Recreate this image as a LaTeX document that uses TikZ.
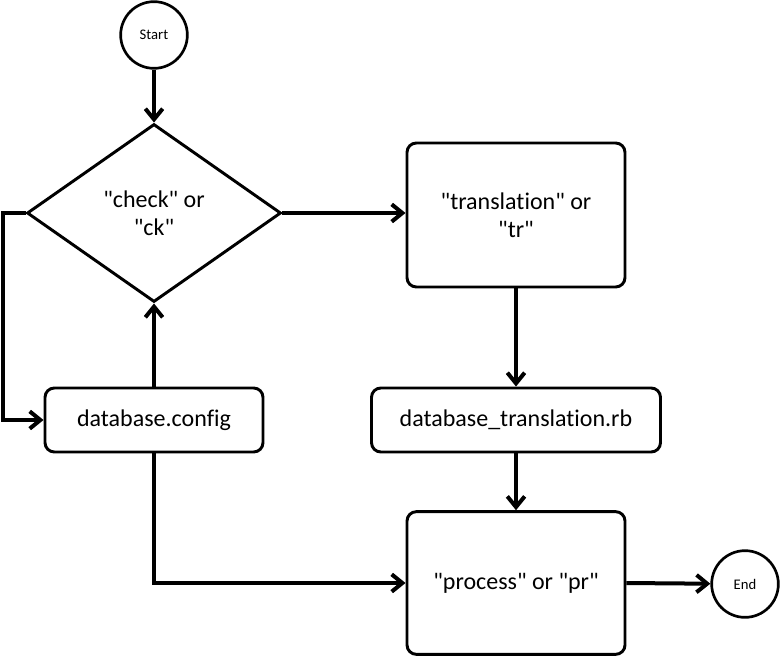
\documentclass[tikz,border=0pt]{standalone}
\usepackage{fontspec}
\setmainfont{Carlito}[Ligatures={NoCommon}]
\usetikzlibrary{shapes.geometric,arrows.meta}
\newcommand{\qt}[1]{\textquotedbl#1\textquotedbl}
\begin{document}
\begin{tikzpicture}[x=0.75pt, y=-0.75pt,
        box/.style={draw, line width=2.2pt, rounded corners=7pt, align=center, inner sep=0pt,
            font=\fontsize{18}{21}\selectfont},
        term/.style={circle, draw, line width=2pt, inner sep=0pt, minimum size=50pt,
            font=\fontsize{11}{13}\selectfont},
        arr/.style={line width=3pt, -{Straight Barb[length=8pt, width=13pt]}}]
        \useasboundingbox (0, 0) rectangle (781, 657);

        \node[term] (start) at (154, 35) {Start};
        \node[diamond, draw, line width=2.2pt, inner sep=0pt, minimum width=190.5pt, minimum height=133.5pt,
            align=center, font=\fontsize{18}{21}\selectfont] (chk) at (154, 213) {\qt{check} or\\\qt{ck}};
        \node[box, minimum width=163.5pt, minimum height=108pt] (tr) at (516, 215) {\qt{translation} or\\\qt{tr}};
        \node[box, minimum width=163.5pt, minimum height=48pt] (cfg) at (154, 420) {database.config};
        \node[box, minimum width=216.75pt, minimum height=48pt] (dbtr) at (516, 420) {database\_translation.rb};
        \node[box, minimum width=163.5pt, minimum height=107pt] (pr) at (516, 583) {\qt{process} or \qt{pr}};
        \node[term] (end) at (745, 584) {End};

        \draw [arr] (start) -- (chk.north);
        \draw [arr] (chk.east) -- (tr.west |- chk.east);
        \draw [arr] (tr) -- (dbtr);
        \draw [arr] (dbtr) -- (pr);
        \draw [arr] (pr.east) -- (end);
        \draw [arr] (cfg) -- (chk.south);
        \draw [arr] (chk.west) -- ++(-23, 0) |- (cfg.west);
        \draw [arr] (cfg.south) |- (pr.west);
    \end{tikzpicture}
\end{document}
